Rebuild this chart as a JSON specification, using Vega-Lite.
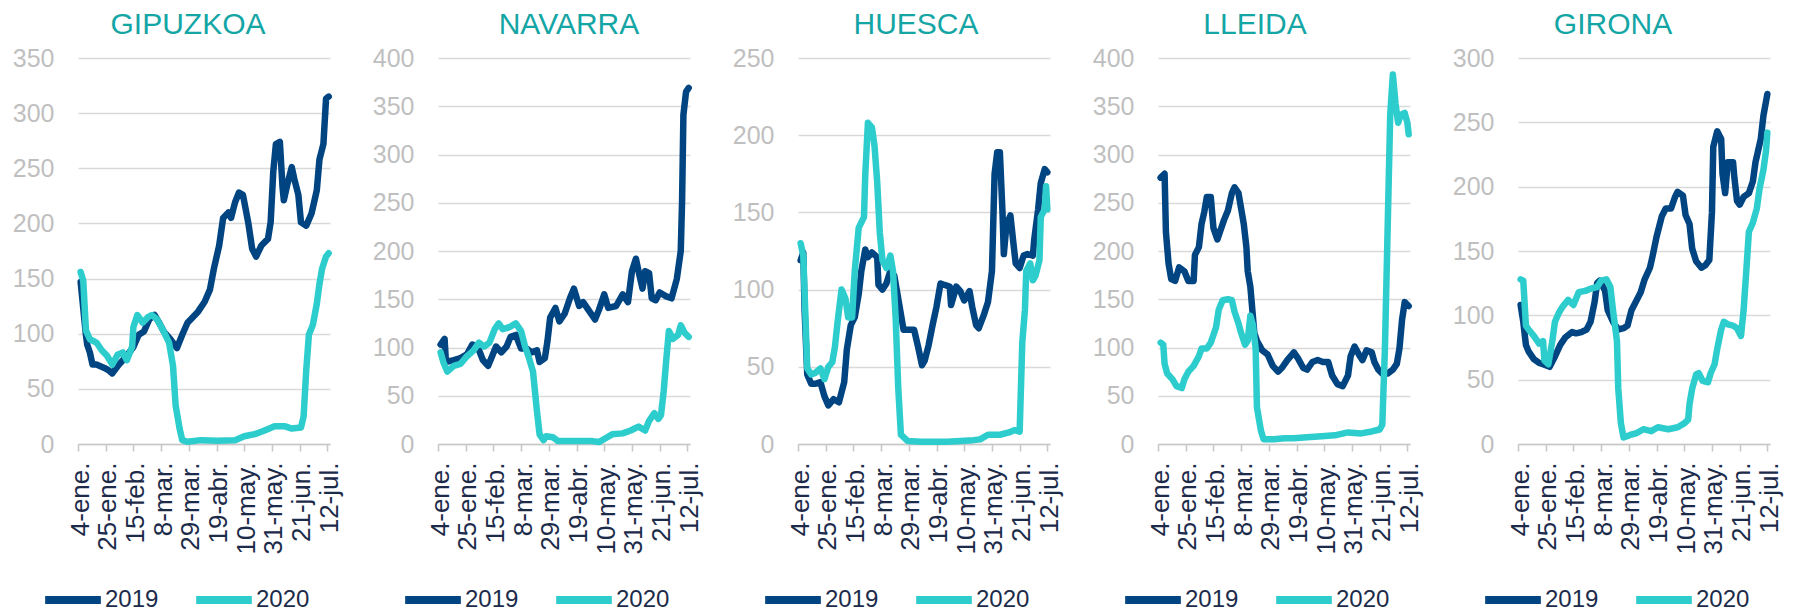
{
  "$schema": "https://vega.github.io/schema/vega-lite/v6.json",
  "background": "white",
  "padding": {"left": 12, "top": 10, "right": 5, "bottom": 0},
  "config": {
    "font": "Liberation Sans",
    "view": {"stroke": null},
    "title": {"fontSize": 30, "font": "Liberation Sans", "fontWeight": "normal", "color": "#14A5A5", "anchor": "middle", "frame": "group", "baseline": "alphabetic", "offset": 6},
    "axisY": {"labelFontSize": 25, "labelColor": "#BFBFBF", "gridColor": "#D9D9D9", "gridWidth": 1.6, "domain": false, "ticks": false, "labelPadding": 24, "title": null},
    "axisX": {"labelFontSize": 26, "labelColor": "#1C2B4A", "domainColor": "#C8C8C8", "domainWidth": 1.6, "tickColor": "#C8C8C8", "tickWidth": 1.6, "tickSize": 7, "labelAngle": -90, "labelPadding": 11, "labelOffset": 2, "grid": false, "title": null},
    "legend": {"orient": "none", "direction": "horizontal", "legendX": -37, "legendY": 510, "symbolType": "stroke", "symbolSize": 3100, "symbolStrokeWidth": 8, "labelFontSize": 24, "labelColor": "#1C2B4A", "labelOffset": 0, "columnPadding": 21, "title": null}
  },
  "resolve": {"scale": {"y": "independent", "color": "independent", "x": "independent"}, "legend": {"color": "independent"}, "axis": {"y": "independent"}},
  "spacing": 29,
  "datasets": {
    "GIPUZKOA": [
      {"s":"2019","f":"2019-01-06","v":147},{"s":"2019","f":"2019-01-10","v":99},{"s":"2019","f":"2019-01-11","v":90},{"s":"2019","f":"2019-01-13","v":83},{"s":"2019","f":"2019-01-15","v":72},{"s":"2019","f":"2019-01-18","v":72},{"s":"2019","f":"2019-01-24","v":69},{"s":"2019","f":"2019-01-27","v":67},{"s":"2019","f":"2019-01-30","v":64},{"s":"2019","f":"2019-02-04","v":72},{"s":"2019","f":"2019-02-10","v":80},{"s":"2019","f":"2019-02-15","v":88},{"s":"2019","f":"2019-02-19","v":99},{"s":"2019","f":"2019-02-23","v":102},{"s":"2019","f":"2019-02-27","v":113},{"s":"2019","f":"2019-03-03","v":117},{"s":"2019","f":"2019-03-06","v":111},{"s":"2019","f":"2019-03-10","v":102},{"s":"2019","f":"2019-03-15","v":95},{"s":"2019","f":"2019-03-20","v":87},{"s":"2019","f":"2019-03-24","v":99},{"s":"2019","f":"2019-03-28","v":110},{"s":"2019","f":"2019-04-01","v":115},{"s":"2019","f":"2019-04-05","v":120},{"s":"2019","f":"2019-04-10","v":129},{"s":"2019","f":"2019-04-14","v":140},{"s":"2019","f":"2019-04-17","v":159},{"s":"2019","f":"2019-04-21","v":180},{"s":"2019","f":"2019-04-24","v":205},{"s":"2019","f":"2019-04-28","v":210},{"s":"2019","f":"2019-04-30","v":205},{"s":"2019","f":"2019-05-03","v":219},{"s":"2019","f":"2019-05-06","v":228},{"s":"2019","f":"2019-05-09","v":226},{"s":"2019","f":"2019-05-13","v":201},{"s":"2019","f":"2019-05-16","v":177},{"s":"2019","f":"2019-05-19","v":170},{"s":"2019","f":"2019-05-23","v":180},{"s":"2019","f":"2019-05-28","v":186},{"s":"2019","f":"2019-05-30","v":201},{"s":"2019","f":"2019-06-01","v":247},{"s":"2019","f":"2019-06-03","v":272},{"s":"2019","f":"2019-06-06","v":274},{"s":"2019","f":"2019-06-08","v":233},{"s":"2019","f":"2019-06-09","v":221},{"s":"2019","f":"2019-06-12","v":237},{"s":"2019","f":"2019-06-15","v":251},{"s":"2019","f":"2019-06-17","v":240},{"s":"2019","f":"2019-06-20","v":226},{"s":"2019","f":"2019-06-22","v":201},{"s":"2019","f":"2019-06-26","v":198},{"s":"2019","f":"2019-06-30","v":209},{"s":"2019","f":"2019-07-04","v":230},{"s":"2019","f":"2019-07-06","v":258},{"s":"2019","f":"2019-07-09","v":272},{"s":"2019","f":"2019-07-11","v":313},{"s":"2019","f":"2019-07-13","v":315},
      {"s":"2020","f":"2019-01-06","v":156},{"s":"2020","f":"2019-01-08","v":148},{"s":"2020","f":"2019-01-10","v":103},{"s":"2020","f":"2019-01-13","v":95},{"s":"2020","f":"2019-01-18","v":92},{"s":"2020","f":"2019-01-22","v":85},{"s":"2020","f":"2019-01-26","v":80},{"s":"2020","f":"2019-01-30","v":72},{"s":"2020","f":"2019-02-03","v":81},{"s":"2020","f":"2019-02-07","v":83},{"s":"2020","f":"2019-02-10","v":76},{"s":"2020","f":"2019-02-14","v":88},{"s":"2020","f":"2019-02-15","v":106},{"s":"2020","f":"2019-02-18","v":117},{"s":"2020","f":"2019-02-22","v":110},{"s":"2020","f":"2019-02-26","v":115},{"s":"2020","f":"2019-03-01","v":117},{"s":"2020","f":"2019-03-05","v":113},{"s":"2020","f":"2019-03-10","v":102},{"s":"2020","f":"2019-03-14","v":92},{"s":"2020","f":"2019-03-17","v":71},{"s":"2020","f":"2019-03-19","v":35},{"s":"2020","f":"2019-03-22","v":14},{"s":"2020","f":"2019-03-24","v":3.5},{"s":"2020","f":"2019-03-28","v":2},{"s":"2020","f":"2019-04-07","v":3.5},{"s":"2020","f":"2019-04-20","v":3},{"s":"2020","f":"2019-05-03","v":3.5},{"s":"2020","f":"2019-05-10","v":7},{"s":"2020","f":"2019-05-18","v":9},{"s":"2020","f":"2019-05-25","v":12},{"s":"2020","f":"2019-06-02","v":16},{"s":"2020","f":"2019-06-10","v":16},{"s":"2020","f":"2019-06-15","v":14},{"s":"2020","f":"2019-06-22","v":15},{"s":"2020","f":"2019-06-24","v":25},{"s":"2020","f":"2019-06-26","v":67},{"s":"2020","f":"2019-06-28","v":99},{"s":"2020","f":"2019-07-01","v":108},{"s":"2020","f":"2019-07-04","v":127},{"s":"2020","f":"2019-07-06","v":145},{"s":"2020","f":"2019-07-08","v":159},{"s":"2020","f":"2019-07-11","v":170},{"s":"2020","f":"2019-07-13","v":173}
    ],
    "NAVARRA": [
      {"s":"2019","f":"2019-01-06","v":103},{"s":"2019","f":"2019-01-09","v":109},{"s":"2019","f":"2019-01-10","v":85},{"s":"2019","f":"2019-01-16","v":87},{"s":"2019","f":"2019-01-21","v":89},{"s":"2019","f":"2019-01-26","v":93},{"s":"2019","f":"2019-01-30","v":103},{"s":"2019","f":"2019-02-03","v":101},{"s":"2019","f":"2019-02-07","v":87},{"s":"2019","f":"2019-02-11","v":81},{"s":"2019","f":"2019-02-14","v":91},{"s":"2019","f":"2019-02-17","v":101},{"s":"2019","f":"2019-02-21","v":95},{"s":"2019","f":"2019-02-25","v":101},{"s":"2019","f":"2019-02-28","v":111},{"s":"2019","f":"2019-03-04","v":113},{"s":"2019","f":"2019-03-08","v":99},{"s":"2019","f":"2019-03-12","v":99},{"s":"2019","f":"2019-03-16","v":95},{"s":"2019","f":"2019-03-20","v":97},{"s":"2019","f":"2019-03-22","v":85},{"s":"2019","f":"2019-03-26","v":89},{"s":"2019","f":"2019-03-28","v":107},{"s":"2019","f":"2019-03-30","v":131},{"s":"2019","f":"2019-04-03","v":141},{"s":"2019","f":"2019-04-06","v":127},{"s":"2019","f":"2019-04-10","v":135},{"s":"2019","f":"2019-04-14","v":151},{"s":"2019","f":"2019-04-17","v":161},{"s":"2019","f":"2019-04-21","v":143},{"s":"2019","f":"2019-04-24","v":147},{"s":"2019","f":"2019-04-28","v":139},{"s":"2019","f":"2019-05-03","v":129},{"s":"2019","f":"2019-05-06","v":139},{"s":"2019","f":"2019-05-10","v":155},{"s":"2019","f":"2019-05-13","v":141},{"s":"2019","f":"2019-05-19","v":143},{"s":"2019","f":"2019-05-24","v":155},{"s":"2019","f":"2019-05-28","v":147},{"s":"2019","f":"2019-05-31","v":179},{"s":"2019","f":"2019-06-03","v":192},{"s":"2019","f":"2019-06-05","v":179},{"s":"2019","f":"2019-06-08","v":161},{"s":"2019","f":"2019-06-10","v":179},{"s":"2019","f":"2019-06-13","v":177},{"s":"2019","f":"2019-06-15","v":151},{"s":"2019","f":"2019-06-18","v":149},{"s":"2019","f":"2019-06-21","v":157},{"s":"2019","f":"2019-06-26","v":153},{"s":"2019","f":"2019-06-30","v":151},{"s":"2019","f":"2019-07-04","v":171},{"s":"2019","f":"2019-07-07","v":200},{"s":"2019","f":"2019-07-08","v":252},{"s":"2019","f":"2019-07-09","v":341},{"s":"2019","f":"2019-07-11","v":365},{"s":"2019","f":"2019-07-13","v":369},
      {"s":"2020","f":"2019-01-06","v":95},{"s":"2020","f":"2019-01-08","v":85},{"s":"2020","f":"2019-01-11","v":75},{"s":"2020","f":"2019-01-16","v":81},{"s":"2020","f":"2019-01-21","v":83},{"s":"2020","f":"2019-01-26","v":91},{"s":"2020","f":"2019-01-31","v":97},{"s":"2020","f":"2019-02-04","v":105},{"s":"2020","f":"2019-02-08","v":101},{"s":"2020","f":"2019-02-12","v":105},{"s":"2020","f":"2019-02-16","v":119},{"s":"2020","f":"2019-02-19","v":125},{"s":"2020","f":"2019-02-22","v":119},{"s":"2020","f":"2019-02-27","v":121},{"s":"2020","f":"2019-03-04","v":125},{"s":"2020","f":"2019-03-08","v":117},{"s":"2020","f":"2019-03-11","v":101},{"s":"2020","f":"2019-03-14","v":89},{"s":"2020","f":"2019-03-17","v":75},{"s":"2020","f":"2019-03-20","v":34},{"s":"2020","f":"2019-03-22","v":10},{"s":"2020","f":"2019-03-25","v":4},{"s":"2020","f":"2019-03-27","v":8},{"s":"2020","f":"2019-04-01","v":7},{"s":"2020","f":"2019-04-05","v":3},{"s":"2020","f":"2019-04-18","v":3},{"s":"2020","f":"2019-05-01","v":3},{"s":"2020","f":"2019-05-06","v":2},{"s":"2020","f":"2019-05-11","v":6},{"s":"2020","f":"2019-05-16","v":10},{"s":"2020","f":"2019-05-24","v":11},{"s":"2020","f":"2019-05-30","v":14},{"s":"2020","f":"2019-06-05","v":18},{"s":"2020","f":"2019-06-10","v":14},{"s":"2020","f":"2019-06-13","v":24},{"s":"2020","f":"2019-06-17","v":32},{"s":"2020","f":"2019-06-20","v":26},{"s":"2020","f":"2019-06-22","v":30},{"s":"2020","f":"2019-06-24","v":54},{"s":"2020","f":"2019-06-26","v":87},{"s":"2020","f":"2019-06-28","v":117},{"s":"2020","f":"2019-07-01","v":109},{"s":"2020","f":"2019-07-05","v":113},{"s":"2020","f":"2019-07-07","v":123},{"s":"2020","f":"2019-07-10","v":115},{"s":"2020","f":"2019-07-13","v":111}
    ],
    "HUESCA": [
      {"s":"2019","f":"2019-01-06","v":119},{"s":"2019","f":"2019-01-08","v":124},{"s":"2019","f":"2019-01-09","v":87},{"s":"2019","f":"2019-01-11","v":45},{"s":"2019","f":"2019-01-14","v":39},{"s":"2019","f":"2019-01-17","v":39},{"s":"2019","f":"2019-01-21","v":40},{"s":"2019","f":"2019-01-24","v":31},{"s":"2019","f":"2019-01-27","v":25},{"s":"2019","f":"2019-01-31","v":29},{"s":"2019","f":"2019-02-04","v":27},{"s":"2019","f":"2019-02-08","v":40},{"s":"2019","f":"2019-02-10","v":61},{"s":"2019","f":"2019-02-13","v":77},{"s":"2019","f":"2019-02-16","v":82},{"s":"2019","f":"2019-02-19","v":97},{"s":"2019","f":"2019-02-21","v":112},{"s":"2019","f":"2019-02-24","v":126},{"s":"2019","f":"2019-02-26","v":121},{"s":"2019","f":"2019-03-01","v":124},{"s":"2019","f":"2019-03-05","v":121},{"s":"2019","f":"2019-03-06","v":103},{"s":"2019","f":"2019-03-09","v":100},{"s":"2019","f":"2019-03-12","v":104},{"s":"2019","f":"2019-03-15","v":112},{"s":"2019","f":"2019-03-18","v":109},{"s":"2019","f":"2019-03-21","v":94},{"s":"2019","f":"2019-03-25","v":74},{"s":"2019","f":"2019-03-28","v":74},{"s":"2019","f":"2019-04-02","v":74},{"s":"2019","f":"2019-04-05","v":63},{"s":"2019","f":"2019-04-08","v":51},{"s":"2019","f":"2019-04-10","v":54},{"s":"2019","f":"2019-04-13","v":64},{"s":"2019","f":"2019-04-16","v":77},{"s":"2019","f":"2019-04-19","v":89},{"s":"2019","f":"2019-04-22","v":104},{"s":"2019","f":"2019-04-25","v":103},{"s":"2019","f":"2019-04-29","v":102},{"s":"2019","f":"2019-04-30","v":90},{"s":"2019","f":"2019-05-04","v":102},{"s":"2019","f":"2019-05-07","v":99},{"s":"2019","f":"2019-05-10","v":93},{"s":"2019","f":"2019-05-14","v":99},{"s":"2019","f":"2019-05-16","v":89},{"s":"2019","f":"2019-05-19","v":77},{"s":"2019","f":"2019-05-21","v":75},{"s":"2019","f":"2019-05-25","v":84},{"s":"2019","f":"2019-05-28","v":92},{"s":"2019","f":"2019-05-31","v":112},{"s":"2019","f":"2019-06-02","v":175},{"s":"2019","f":"2019-06-04","v":189},{"s":"2019","f":"2019-06-06","v":189},{"s":"2019","f":"2019-06-08","v":150},{"s":"2019","f":"2019-06-09","v":123},{"s":"2019","f":"2019-06-11","v":142},{"s":"2019","f":"2019-06-14","v":148},{"s":"2019","f":"2019-06-16","v":132},{"s":"2019","f":"2019-06-18","v":117},{"s":"2019","f":"2019-06-21","v":114},{"s":"2019","f":"2019-06-24","v":122},{"s":"2019","f":"2019-06-27","v":123},{"s":"2019","f":"2019-07-01","v":122},{"s":"2019","f":"2019-07-02","v":132},{"s":"2019","f":"2019-07-05","v":152},{"s":"2019","f":"2019-07-07","v":169},{"s":"2019","f":"2019-07-10","v":178},{"s":"2019","f":"2019-07-12","v":176},
      {"s":"2020","f":"2019-01-06","v":130},{"s":"2020","f":"2019-01-08","v":122},{"s":"2020","f":"2019-01-10","v":74},{"s":"2020","f":"2019-01-11","v":49},{"s":"2020","f":"2019-01-14","v":45},{"s":"2020","f":"2019-01-17","v":46},{"s":"2020","f":"2019-01-21","v":49},{"s":"2020","f":"2019-01-24","v":42},{"s":"2020","f":"2019-01-27","v":50},{"s":"2020","f":"2019-01-30","v":53},{"s":"2020","f":"2019-02-01","v":63},{"s":"2020","f":"2019-02-03","v":79},{"s":"2020","f":"2019-02-06","v":100},{"s":"2020","f":"2019-02-09","v":94},{"s":"2020","f":"2019-02-11","v":82},{"s":"2020","f":"2019-02-14","v":82},{"s":"2020","f":"2019-02-16","v":112},{"s":"2020","f":"2019-02-19","v":140},{"s":"2020","f":"2019-02-23","v":147},{"s":"2020","f":"2019-02-24","v":175},{"s":"2020","f":"2019-02-26","v":208},{"s":"2020","f":"2019-03-01","v":205},{"s":"2020","f":"2019-03-03","v":193},{"s":"2020","f":"2019-03-05","v":170},{"s":"2020","f":"2019-03-07","v":137},{"s":"2020","f":"2019-03-09","v":119},{"s":"2020","f":"2019-03-12","v":114},{"s":"2020","f":"2019-03-15","v":122},{"s":"2020","f":"2019-03-17","v":112},{"s":"2020","f":"2019-03-19","v":82},{"s":"2020","f":"2019-03-21","v":36},{"s":"2020","f":"2019-03-23","v":6},{"s":"2020","f":"2019-03-28","v":2},{"s":"2020","f":"2019-04-07","v":1.5},{"s":"2020","f":"2019-04-17","v":1.5},{"s":"2020","f":"2019-04-27","v":1.5},{"s":"2020","f":"2019-05-07","v":2},{"s":"2020","f":"2019-05-17","v":2.5},{"s":"2020","f":"2019-05-22","v":3},{"s":"2020","f":"2019-05-28","v":6},{"s":"2020","f":"2019-06-06","v":6},{"s":"2020","f":"2019-06-13","v":7.5},{"s":"2020","f":"2019-06-17","v":9},{"s":"2020","f":"2019-06-21","v":8},{"s":"2020","f":"2019-06-23","v":66},{"s":"2020","f":"2019-06-25","v":87},{"s":"2020","f":"2019-06-26","v":112},{"s":"2020","f":"2019-06-29","v":117},{"s":"2020","f":"2019-07-01","v":106},{"s":"2020","f":"2019-07-03","v":109},{"s":"2020","f":"2019-07-06","v":119},{"s":"2020","f":"2019-07-07","v":147},{"s":"2020","f":"2019-07-10","v":152},{"s":"2020","f":"2019-07-11","v":167},{"s":"2020","f":"2019-07-12","v":152}
    ],
    "LLEIDA": [
      {"s":"2019","f":"2019-01-06","v":276},{"s":"2019","f":"2019-01-09","v":280},{"s":"2019","f":"2019-01-10","v":220},{"s":"2019","f":"2019-01-12","v":187},{"s":"2019","f":"2019-01-14","v":171},{"s":"2019","f":"2019-01-17","v":169},{"s":"2019","f":"2019-01-20","v":183},{"s":"2019","f":"2019-01-24","v":179},{"s":"2019","f":"2019-01-27","v":169},{"s":"2019","f":"2019-01-31","v":169},{"s":"2019","f":"2019-02-01","v":196},{"s":"2019","f":"2019-02-04","v":204},{"s":"2019","f":"2019-02-06","v":228},{"s":"2019","f":"2019-02-08","v":240},{"s":"2019","f":"2019-02-10","v":256},{"s":"2019","f":"2019-02-13","v":256},{"s":"2019","f":"2019-02-15","v":224},{"s":"2019","f":"2019-02-18","v":212},{"s":"2019","f":"2019-02-20","v":220},{"s":"2019","f":"2019-02-23","v":232},{"s":"2019","f":"2019-02-26","v":242},{"s":"2019","f":"2019-03-01","v":260},{"s":"2019","f":"2019-03-03","v":266},{"s":"2019","f":"2019-03-06","v":260},{"s":"2019","f":"2019-03-08","v":244},{"s":"2019","f":"2019-03-10","v":228},{"s":"2019","f":"2019-03-12","v":204},{"s":"2019","f":"2019-03-13","v":179},{"s":"2019","f":"2019-03-15","v":163},{"s":"2019","f":"2019-03-17","v":131},{"s":"2019","f":"2019-03-18","v":115},{"s":"2019","f":"2019-03-20","v":107},{"s":"2019","f":"2019-03-24","v":97},{"s":"2019","f":"2019-03-28","v":93},{"s":"2019","f":"2019-04-01","v":81},{"s":"2019","f":"2019-04-05","v":75},{"s":"2019","f":"2019-04-08","v":79},{"s":"2019","f":"2019-04-12","v":87},{"s":"2019","f":"2019-04-17","v":95},{"s":"2019","f":"2019-04-20","v":89},{"s":"2019","f":"2019-04-24","v":79},{"s":"2019","f":"2019-04-27","v":77},{"s":"2019","f":"2019-05-01","v":85},{"s":"2019","f":"2019-05-05","v":87},{"s":"2019","f":"2019-05-09","v":85},{"s":"2019","f":"2019-05-13","v":85},{"s":"2019","f":"2019-05-16","v":71},{"s":"2019","f":"2019-05-20","v":62},{"s":"2019","f":"2019-05-24","v":60},{"s":"2019","f":"2019-05-28","v":71},{"s":"2019","f":"2019-05-30","v":91},{"s":"2019","f":"2019-06-02","v":101},{"s":"2019","f":"2019-06-06","v":91},{"s":"2019","f":"2019-06-08","v":87},{"s":"2019","f":"2019-06-11","v":97},{"s":"2019","f":"2019-06-15","v":95},{"s":"2019","f":"2019-06-17","v":85},{"s":"2019","f":"2019-06-20","v":77},{"s":"2019","f":"2019-06-23","v":73},{"s":"2019","f":"2019-06-27","v":73},{"s":"2019","f":"2019-07-01","v":77},{"s":"2019","f":"2019-07-04","v":83},{"s":"2019","f":"2019-07-06","v":99},{"s":"2019","f":"2019-07-08","v":129},{"s":"2019","f":"2019-07-10","v":147},{"s":"2019","f":"2019-07-13","v":143},
      {"s":"2020","f":"2019-01-06","v":105},{"s":"2020","f":"2019-01-08","v":103},{"s":"2020","f":"2019-01-09","v":83},{"s":"2020","f":"2019-01-11","v":73},{"s":"2020","f":"2019-01-15","v":67},{"s":"2020","f":"2019-01-18","v":60},{"s":"2020","f":"2019-01-22","v":58},{"s":"2020","f":"2019-01-24","v":67},{"s":"2020","f":"2019-01-27","v":75},{"s":"2020","f":"2019-01-31","v":81},{"s":"2020","f":"2019-02-04","v":91},{"s":"2020","f":"2019-02-06","v":99},{"s":"2020","f":"2019-02-10","v":99},{"s":"2020","f":"2019-02-13","v":105},{"s":"2020","f":"2019-02-17","v":121},{"s":"2020","f":"2019-02-19","v":139},{"s":"2020","f":"2019-02-22","v":149},{"s":"2020","f":"2019-02-26","v":150},{"s":"2020","f":"2019-03-01","v":149},{"s":"2020","f":"2019-03-03","v":137},{"s":"2020","f":"2019-03-06","v":125},{"s":"2020","f":"2019-03-08","v":115},{"s":"2020","f":"2019-03-11","v":103},{"s":"2020","f":"2019-03-13","v":107},{"s":"2020","f":"2019-03-15","v":133},{"s":"2020","f":"2019-03-17","v":123},{"s":"2020","f":"2019-03-19","v":99},{"s":"2020","f":"2019-03-20","v":38},{"s":"2020","f":"2019-03-23","v":14},{"s":"2020","f":"2019-03-25","v":5},{"s":"2020","f":"2019-04-02","v":5},{"s":"2020","f":"2019-04-10","v":6},{"s":"2020","f":"2019-04-17","v":6},{"s":"2020","f":"2019-04-27","v":7},{"s":"2020","f":"2019-05-08","v":8},{"s":"2020","f":"2019-05-18","v":9},{"s":"2020","f":"2019-05-28","v":12},{"s":"2020","f":"2019-06-07","v":11},{"s":"2020","f":"2019-06-15","v":13},{"s":"2020","f":"2019-06-21","v":15},{"s":"2020","f":"2019-06-23","v":20},{"s":"2020","f":"2019-06-25","v":99},{"s":"2020","f":"2019-06-27","v":220},{"s":"2020","f":"2019-06-29","v":341},{"s":"2020","f":"2019-07-01","v":383},{"s":"2020","f":"2019-07-03","v":353},{"s":"2020","f":"2019-07-05","v":333},{"s":"2020","f":"2019-07-07","v":341},{"s":"2020","f":"2019-07-10","v":343},{"s":"2020","f":"2019-07-12","v":333},{"s":"2020","f":"2019-07-13","v":321}
    ],
    "GIRONA": [
      {"s":"2019","f":"2019-01-06","v":108},{"s":"2019","f":"2019-01-08","v":95},{"s":"2019","f":"2019-01-10","v":77},{"s":"2019","f":"2019-01-12","v":72},{"s":"2019","f":"2019-01-16","v":66},{"s":"2019","f":"2019-01-20","v":63},{"s":"2019","f":"2019-01-23","v":62},{"s":"2019","f":"2019-01-28","v":60},{"s":"2019","f":"2019-02-01","v":68},{"s":"2019","f":"2019-02-05","v":77},{"s":"2019","f":"2019-02-09","v":83},{"s":"2019","f":"2019-02-14","v":87},{"s":"2019","f":"2019-02-17","v":86},{"s":"2019","f":"2019-02-21","v":87},{"s":"2019","f":"2019-02-25","v":89},{"s":"2019","f":"2019-02-28","v":95},{"s":"2019","f":"2019-03-03","v":110},{"s":"2019","f":"2019-03-05","v":125},{"s":"2019","f":"2019-03-07","v":127},{"s":"2019","f":"2019-03-11","v":119},{"s":"2019","f":"2019-03-13","v":104},{"s":"2019","f":"2019-03-17","v":95},{"s":"2019","f":"2019-03-21","v":89},{"s":"2019","f":"2019-03-25","v":90},{"s":"2019","f":"2019-03-28","v":92},{"s":"2019","f":"2019-03-31","v":104},{"s":"2019","f":"2019-04-04","v":112},{"s":"2019","f":"2019-04-07","v":118},{"s":"2019","f":"2019-04-10","v":128},{"s":"2019","f":"2019-04-14","v":137},{"s":"2019","f":"2019-04-16","v":146},{"s":"2019","f":"2019-04-19","v":161},{"s":"2019","f":"2019-04-23","v":177},{"s":"2019","f":"2019-04-26","v":183},{"s":"2019","f":"2019-04-30","v":183},{"s":"2019","f":"2019-05-03","v":192},{"s":"2019","f":"2019-05-05","v":196},{"s":"2019","f":"2019-05-09","v":193},{"s":"2019","f":"2019-05-11","v":178},{"s":"2019","f":"2019-05-14","v":171},{"s":"2019","f":"2019-05-16","v":152},{"s":"2019","f":"2019-05-19","v":142},{"s":"2019","f":"2019-05-23","v":137},{"s":"2019","f":"2019-05-26","v":139},{"s":"2019","f":"2019-05-29","v":143},{"s":"2019","f":"2019-05-31","v":180},{"s":"2019","f":"2019-06-01","v":231},{"s":"2019","f":"2019-06-04","v":243},{"s":"2019","f":"2019-06-07","v":237},{"s":"2019","f":"2019-06-08","v":210},{"s":"2019","f":"2019-06-10","v":195},{"s":"2019","f":"2019-06-12","v":219},{"s":"2019","f":"2019-06-16","v":219},{"s":"2019","f":"2019-06-17","v":207},{"s":"2019","f":"2019-06-19","v":189},{"s":"2019","f":"2019-06-21","v":186},{"s":"2019","f":"2019-06-24","v":192},{"s":"2019","f":"2019-06-28","v":195},{"s":"2019","f":"2019-07-01","v":204},{"s":"2019","f":"2019-07-03","v":219},{"s":"2019","f":"2019-07-07","v":237},{"s":"2019","f":"2019-07-09","v":255},{"s":"2019","f":"2019-07-12","v":272},
      {"s":"2020","f":"2019-01-06","v":128},{"s":"2020","f":"2019-01-08","v":127},{"s":"2020","f":"2019-01-10","v":92},{"s":"2020","f":"2019-01-12","v":89},{"s":"2020","f":"2019-01-16","v":84},{"s":"2020","f":"2019-01-20","v":78},{"s":"2020","f":"2019-01-23","v":80},{"s":"2020","f":"2019-01-24","v":65},{"s":"2020","f":"2019-01-27","v":62},{"s":"2020","f":"2019-01-30","v":80},{"s":"2020","f":"2019-02-01","v":95},{"s":"2020","f":"2019-02-04","v":102},{"s":"2020","f":"2019-02-07","v":107},{"s":"2020","f":"2019-02-11","v":112},{"s":"2020","f":"2019-02-15","v":108},{"s":"2020","f":"2019-02-19","v":118},{"s":"2020","f":"2019-02-24","v":119},{"s":"2020","f":"2019-03-01","v":121},{"s":"2020","f":"2019-03-05","v":122},{"s":"2020","f":"2019-03-08","v":127},{"s":"2020","f":"2019-03-12","v":128},{"s":"2020","f":"2019-03-15","v":122},{"s":"2020","f":"2019-03-17","v":104},{"s":"2020","f":"2019-03-20","v":80},{"s":"2020","f":"2019-03-21","v":43},{"s":"2020","f":"2019-03-23","v":16},{"s":"2020","f":"2019-03-25","v":5},{"s":"2020","f":"2019-03-30","v":7},{"s":"2020","f":"2019-04-04","v":8.5},{"s":"2020","f":"2019-04-09","v":11.5},{"s":"2020","f":"2019-04-15","v":10},{"s":"2020","f":"2019-04-20","v":13},{"s":"2020","f":"2019-04-28","v":11.5},{"s":"2020","f":"2019-05-05","v":13},{"s":"2020","f":"2019-05-10","v":16},{"s":"2020","f":"2019-05-13","v":19},{"s":"2020","f":"2019-05-14","v":31},{"s":"2020","f":"2019-05-16","v":43},{"s":"2020","f":"2019-05-19","v":54},{"s":"2020","f":"2019-05-21","v":55},{"s":"2020","f":"2019-05-24","v":49},{"s":"2020","f":"2019-05-28","v":48},{"s":"2020","f":"2019-05-30","v":55},{"s":"2020","f":"2019-06-02","v":62},{"s":"2020","f":"2019-06-04","v":74},{"s":"2020","f":"2019-06-07","v":89},{"s":"2020","f":"2019-06-09","v":95},{"s":"2020","f":"2019-06-12","v":93},{"s":"2020","f":"2019-06-16","v":92},{"s":"2020","f":"2019-06-19","v":90},{"s":"2020","f":"2019-06-22","v":84},{"s":"2020","f":"2019-06-24","v":104},{"s":"2020","f":"2019-06-26","v":134},{"s":"2020","f":"2019-06-28","v":165},{"s":"2020","f":"2019-07-01","v":172},{"s":"2020","f":"2019-07-04","v":183},{"s":"2020","f":"2019-07-06","v":198},{"s":"2020","f":"2019-07-09","v":213},{"s":"2020","f":"2019-07-11","v":228},{"s":"2020","f":"2019-07-12","v":242}
    ]
  },
  "hconcat": [
    {
      "title": {"text": "GIPUZKOA", "dx": -16},
      "data": {"name": "GIPUZKOA"},
      "width": 252, "height": 386,
      "mark": {"type": "line", "strokeWidth": 6.5, "strokeCap": "round", "strokeJoin": "round"},
      "encoding": {
        "x": {"field": "f", "type": "temporal", "scale": {"type": "utc", "domain": [{"year": 2019, "month": 1, "date": 4, "utc": true}, {"year": 2019, "month": 7, "date": 14, "utc": true}]}, "axis": {"values": [{"year":2019,"month":1,"date":4,"utc":true},{"year":2019,"month":1,"date":25,"utc":true},{"year":2019,"month":2,"date":15,"utc":true},{"year":2019,"month":3,"date":8,"utc":true},{"year":2019,"month":3,"date":29,"utc":true},{"year":2019,"month":4,"date":19,"utc":true},{"year":2019,"month":5,"date":10,"utc":true},{"year":2019,"month":5,"date":31,"utc":true},{"year":2019,"month":6,"date":21,"utc":true},{"year":2019,"month":7,"date":12,"utc":true}], "labelExpr": "utcFormat(datum.value, '%-d') + '-' + ['ene','feb','mar','abr','may','jun','jul','ago','sep','oct','nov','dic'][utcmonth(datum.value)] + '.'"}},
        "y": {"field": "v", "type": "quantitative", "scale": {"domain": [0, 350], "nice": false}, "axis": {"values": [0, 50, 100, 150, 200, 250, 300, 350]}},
        "color": {"field": "s", "type": "nominal", "scale": {"domain": ["2019", "2020"], "range": ["#004481", "#2DCCCD"]}}
      }
    },
    {
      "title": {"text": "NAVARRA", "dx": 5},
      "data": {"name": "NAVARRA"},
      "width": 252, "height": 386,
      "mark": {"type": "line", "strokeWidth": 6.5, "strokeCap": "round", "strokeJoin": "round"},
      "encoding": {
        "x": {"field": "f", "type": "temporal", "scale": {"type": "utc", "domain": [{"year": 2019, "month": 1, "date": 4, "utc": true}, {"year": 2019, "month": 7, "date": 14, "utc": true}]}, "axis": {"values": [{"year":2019,"month":1,"date":4,"utc":true},{"year":2019,"month":1,"date":25,"utc":true},{"year":2019,"month":2,"date":15,"utc":true},{"year":2019,"month":3,"date":8,"utc":true},{"year":2019,"month":3,"date":29,"utc":true},{"year":2019,"month":4,"date":19,"utc":true},{"year":2019,"month":5,"date":10,"utc":true},{"year":2019,"month":5,"date":31,"utc":true},{"year":2019,"month":6,"date":21,"utc":true},{"year":2019,"month":7,"date":12,"utc":true}], "labelExpr": "utcFormat(datum.value, '%-d') + '-' + ['ene','feb','mar','abr','may','jun','jul','ago','sep','oct','nov','dic'][utcmonth(datum.value)] + '.'"}},
        "y": {"field": "v", "type": "quantitative", "scale": {"domain": [0, 400], "nice": false}, "axis": {"values": [0, 50, 100, 150, 200, 250, 300, 350, 400]}},
        "color": {"field": "s", "type": "nominal", "scale": {"domain": ["2019", "2020"], "range": ["#004481", "#2DCCCD"]}}
      }
    },
    {
      "title": {"text": "HUESCA", "dx": -8},
      "data": {"name": "HUESCA"},
      "width": 252, "height": 386,
      "mark": {"type": "line", "strokeWidth": 6.5, "strokeCap": "round", "strokeJoin": "round"},
      "encoding": {
        "x": {"field": "f", "type": "temporal", "scale": {"type": "utc", "domain": [{"year": 2019, "month": 1, "date": 4, "utc": true}, {"year": 2019, "month": 7, "date": 14, "utc": true}]}, "axis": {"values": [{"year":2019,"month":1,"date":4,"utc":true},{"year":2019,"month":1,"date":25,"utc":true},{"year":2019,"month":2,"date":15,"utc":true},{"year":2019,"month":3,"date":8,"utc":true},{"year":2019,"month":3,"date":29,"utc":true},{"year":2019,"month":4,"date":19,"utc":true},{"year":2019,"month":5,"date":10,"utc":true},{"year":2019,"month":5,"date":31,"utc":true},{"year":2019,"month":6,"date":21,"utc":true},{"year":2019,"month":7,"date":12,"utc":true}], "labelExpr": "utcFormat(datum.value, '%-d') + '-' + ['ene','feb','mar','abr','may','jun','jul','ago','sep','oct','nov','dic'][utcmonth(datum.value)] + '.'"}},
        "y": {"field": "v", "type": "quantitative", "scale": {"domain": [0, 250], "nice": false}, "axis": {"values": [0, 50, 100, 150, 200, 250]}},
        "color": {"field": "s", "type": "nominal", "scale": {"domain": ["2019", "2020"], "range": ["#004481", "#2DCCCD"]}}
      }
    },
    {
      "title": {"text": "LLEIDA", "dx": -29},
      "data": {"name": "LLEIDA"},
      "width": 252, "height": 386,
      "mark": {"type": "line", "strokeWidth": 6.5, "strokeCap": "round", "strokeJoin": "round"},
      "encoding": {
        "x": {"field": "f", "type": "temporal", "scale": {"type": "utc", "domain": [{"year": 2019, "month": 1, "date": 4, "utc": true}, {"year": 2019, "month": 7, "date": 14, "utc": true}]}, "axis": {"values": [{"year":2019,"month":1,"date":4,"utc":true},{"year":2019,"month":1,"date":25,"utc":true},{"year":2019,"month":2,"date":15,"utc":true},{"year":2019,"month":3,"date":8,"utc":true},{"year":2019,"month":3,"date":29,"utc":true},{"year":2019,"month":4,"date":19,"utc":true},{"year":2019,"month":5,"date":10,"utc":true},{"year":2019,"month":5,"date":31,"utc":true},{"year":2019,"month":6,"date":21,"utc":true},{"year":2019,"month":7,"date":12,"utc":true}], "labelExpr": "utcFormat(datum.value, '%-d') + '-' + ['ene','feb','mar','abr','may','jun','jul','ago','sep','oct','nov','dic'][utcmonth(datum.value)] + '.'"}},
        "y": {"field": "v", "type": "quantitative", "scale": {"domain": [0, 400], "nice": false}, "axis": {"values": [0, 50, 100, 150, 200, 250, 300, 350, 400]}},
        "color": {"field": "s", "type": "nominal", "scale": {"domain": ["2019", "2020"], "range": ["#004481", "#2DCCCD"]}}
      }
    },
    {
      "title": {"text": "GIRONA", "dx": -31},
      "data": {"name": "GIRONA"},
      "width": 252, "height": 386,
      "mark": {"type": "line", "strokeWidth": 6.5, "strokeCap": "round", "strokeJoin": "round"},
      "encoding": {
        "x": {"field": "f", "type": "temporal", "scale": {"type": "utc", "domain": [{"year": 2019, "month": 1, "date": 4, "utc": true}, {"year": 2019, "month": 7, "date": 14, "utc": true}]}, "axis": {"values": [{"year":2019,"month":1,"date":4,"utc":true},{"year":2019,"month":1,"date":25,"utc":true},{"year":2019,"month":2,"date":15,"utc":true},{"year":2019,"month":3,"date":8,"utc":true},{"year":2019,"month":3,"date":29,"utc":true},{"year":2019,"month":4,"date":19,"utc":true},{"year":2019,"month":5,"date":10,"utc":true},{"year":2019,"month":5,"date":31,"utc":true},{"year":2019,"month":6,"date":21,"utc":true},{"year":2019,"month":7,"date":12,"utc":true}], "labelExpr": "utcFormat(datum.value, '%-d') + '-' + ['ene','feb','mar','abr','may','jun','jul','ago','sep','oct','nov','dic'][utcmonth(datum.value)] + '.'"}},
        "y": {"field": "v", "type": "quantitative", "scale": {"domain": [0, 300], "nice": false}, "axis": {"values": [0, 50, 100, 150, 200, 250, 300]}},
        "color": {"field": "s", "type": "nominal", "scale": {"domain": ["2019", "2020"], "range": ["#004481", "#2DCCCD"]}}
      }
    }
  ]
}
